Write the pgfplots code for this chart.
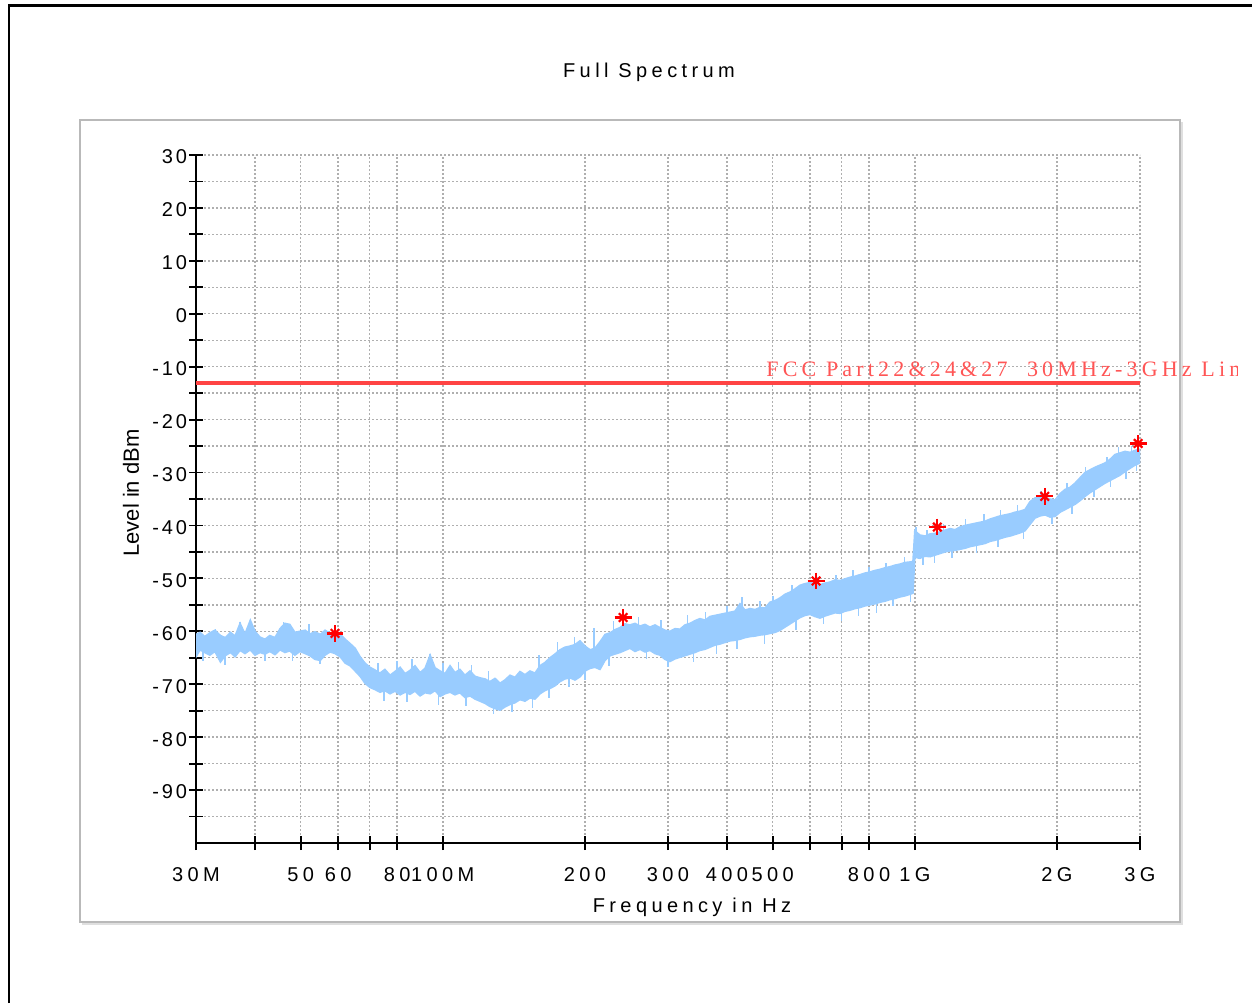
\documentclass[border=0pt]{standalone}
\usepackage{fontspec}
\usepackage{pgfplots}
\pgfplotsset{compat=1.18}
\usepackage{pgfplotstable}
\setmainfont{Liberation Sans}
\newfontfamily\spaced[LetterSpace=22]{Liberation Sans}
\newfontfamily\yspaced[LetterSpace=14]{Liberation Sans}
\newfontfamily\redserif[LetterSpace=19]{Liberation Serif}
\definecolor{trace}{RGB}{153,204,255}
\definecolor{limitred}{RGB}{255,68,68}
\definecolor{textred}{RGB}{255,85,85}
\definecolor{gridgray}{RGB}{175,175,175}

% frequency (MHz), upper envelope (dBm), lower envelope (dBm)
\pgfplotstableread{
f U L
30.0 -60.6 -64.8
30.6 -60.2 -63.5
31.3 -61.0 -64.0
32.1 -60.3 -64.5
32.9 -59.8 -63.8
33.8 -60.8 -65.8
34.6 -61.2 -64.6
35.5 -60.2 -64.0
36.3 -60.9 -64.8
37.2 -58.5 -63.6
38.1 -60.5 -64.2
39.1 -57.9 -63.5
40.0 -60.0 -64.5
41.0 -61.1 -64.0
42.0 -61.5 -64.3
43.0 -60.8 -63.8
44.1 -61.2 -64.4
45.2 -59.5 -63.5
46.3 -58.5 -64.0
47.4 -58.7 -63.7
48.6 -60.2 -64.5
49.8 -60.0 -63.8
51.1 -59.8 -64.2
52.3 -60.5 -64.6
53.6 -60.1 -65.3
55.0 -60.6 -65.5
56.3 -59.8 -64.5
57.7 -60.4 -63.9
59.1 -60.8 -64.2
60.6 -60.5 -64.8
62.1 -61.5 -66.0
63.6 -62.3 -66.5
65.2 -63.2 -67.5
66.8 -64.8 -68.5
68.4 -66.0 -69.8
70.1 -66.8 -70.6
71.8 -67.3 -71.0
73.6 -67.9 -71.5
75.4 -67.2 -71.2
77.3 -68.3 -71.8
79.2 -67.6 -71.3
81.2 -66.8 -72.0
83.2 -68.0 -71.5
85.2 -67.4 -71.9
87.3 -66.5 -71.3
89.5 -67.8 -72.2
91.7 -67.0 -71.6
94.0 -64.5 -71.8
96.3 -66.9 -71.2
98.7 -67.5 -72.3
101.1 -68.0 -71.8
103.6 -66.5 -71.5
106.1 -67.8 -72.0
108.7 -67.2 -71.6
111.4 -68.3 -72.5
114.2 -67.5 -72.2
117.0 -68.5 -72.8
119.9 -68.8 -73.2
122.8 -69.0 -73.6
125.9 -69.5 -74.2
129.0 -68.9 -74.6
132.2 -69.8 -74.9
135.4 -69.2 -74.3
138.8 -68.3 -73.8
142.2 -68.7 -73.5
145.7 -67.6 -72.9
149.3 -68.2 -73.2
153.0 -67.5 -72.6
156.8 -67.9 -72.8
160.7 -66.5 -71.8
164.6 -65.9 -71.2
168.7 -65.0 -70.8
172.8 -64.3 -70.3
177.1 -63.5 -69.5
181.5 -63.0 -69.0
186.0 -62.8 -68.8
190.6 -62.5 -69.2
195.3 -61.8 -68.6
200.1 -62.8 -67.5
205.1 -63.5 -67.0
210.1 -63.2 -66.8
215.3 -62.0 -67.2
220.6 -60.6 -65.5
226.1 -60.3 -64.6
231.6 -59.7 -64.3
237.4 -59.3 -64.0
243.2 -58.6 -63.6
249.2 -58.8 -63.2
255.4 -58.5 -63.8
261.7 -59.0 -63.4
268.1 -58.7 -63.9
274.7 -59.2 -63.6
281.5 -58.8 -64.2
288.5 -59.3 -64.5
295.6 -59.8 -65.3
302.9 -60.0 -65.7
310.4 -59.5 -65.2
318.0 -59.6 -64.9
325.9 -58.8 -64.6
333.9 -58.5 -64.3
342.2 -58.0 -64.0
350.6 -57.6 -63.6
359.3 -57.9 -63.4
368.2 -57.2 -63.0
377.3 -57.0 -62.6
386.6 -56.8 -62.4
396.1 -56.6 -62.1
405.9 -56.4 -61.8
415.9 -56.2 -61.7
426.2 -54.8 -61.5
436.7 -56.0 -61.2
447.5 -55.7 -61.0
458.6 -55.9 -60.9
469.9 -55.5 -60.7
481.5 -55.6 -60.6
493.4 -54.5 -60.4
505.6 -54.2 -60.2
518.1 -53.7 -59.8
530.9 -53.0 -59.2
544.0 -52.6 -58.6
557.4 -52.0 -58.0
571.2 -51.3 -57.4
585.3 -51.0 -57.0
599.7 -50.8 -56.8
614.5 -50.5 -57.2
629.7 -51.2 -57.5
645.3 -50.9 -57.1
661.2 -50.7 -56.8
677.5 -50.3 -56.5
694.3 -50.4 -56.6
711.4 -50.1 -56.2
728.9 -49.8 -56.0
747.0 -49.6 -55.7
765.4 -49.3 -55.5
784.3 -49.0 -55.2
803.7 -48.8 -55.0
823.5 -48.5 -54.8
843.8 -48.3 -54.5
864.7 -48.0 -54.3
886.0 -47.8 -54.0
908.0 -47.5 -53.8
930.4 -47.3 -53.5
953.3 -47.0 -53.3
976.9 -46.9 -53.0
991.0 -46.8 -52.8
1000.0 -41.0 -46.0
1025.0 -41.8 -46.2
1051.0 -42.0 -45.8
1077.0 -41.6 -45.9
1103.6 -41.5 -45.6
1131.0 -41.2 -45.3
1158.8 -40.9 -45.0
1187.5 -40.6 -44.8
1216.7 -40.8 -44.7
1246.8 -40.3 -44.5
1277.6 -40.0 -44.3
1309.1 -39.8 -44.0
1341.4 -39.6 -43.8
1374.6 -39.4 -43.6
1408.5 -39.2 -43.4
1443.3 -38.8 -43.0
1478.9 -38.5 -42.8
1515.4 -38.2 -42.5
1552.9 -38.0 -42.2
1591.2 -37.8 -42.0
1630.5 -37.5 -41.7
1670.8 -37.3 -41.4
1712.0 -37.0 -41.0
1754.3 -35.5 -39.8
1797.6 -34.8 -38.6
1842.0 -34.6 -38.2
1887.5 -34.7 -38.0
1934.0 -35.0 -38.4
1981.9 -35.2 -38.3
2030.8 -34.0 -37.5
2081.0 -33.2 -37.0
2132.3 -32.8 -36.5
2185.0 -32.0 -36.0
2239.0 -31.0 -35.3
2294.3 -30.0 -34.5
2350.9 -29.5 -33.8
2409.0 -29.0 -33.2
2468.5 -28.6 -32.6
2529.5 -28.2 -32.0
2592.0 -27.5 -31.5
2656.0 -26.6 -31.0
2721.6 -26.3 -30.5
2788.7 -26.0 -29.8
2857.6 -26.2 -29.2
2928.0 -25.8 -28.6
3000.0 -25.6 -28.2
}\spectrum

\begin{document}
\begin{tikzpicture}
\begin{scope}[x=0.5pt,y=0.5pt]
\path[use as bounding box] (0,0) rectangle (1252,1003);
% outer frame
\draw[black, line width=1.5pt] (8,997) -- (1252,997);
\draw[black, line width=1pt] (9,0) -- (9,997);
% inner gray frame with shadow
\draw[gray!25, line width=1pt] (82,79) -- (1182,79) -- (1182,881);
\draw[gray!55, line width=1pt] (80,81) rectangle (1180,883);
\end{scope}

\begin{axis}[
  at={(98pt,80pt)}, anchor=south west,
  scale only axis, width=472pt, height=344pt,
  xmode=log, xmin=30, xmax=3000, ymin=-100, ymax=30,
  axis x line=bottom, axis y line=left,
  axis line style={-, black, line width=1pt},
  xtick={30,40,50,60,70,80,100,200,300,400,500,600,700,800,1000,2000,3000},
  xticklabels={30M,,50,60,,80,100M,200,300,400,500,,,800,1G,2G,3G},
  minor xtick={},
  ytick={-90,-80,-70,-60,-50,-40,-30,-20,-10,0,10,20,30},
  yticklabels={-90,-80,-70,-60,-50,-40,-30,-20,-10,0,10,20,30},
  minor ytick={-95,-85,-75,-65,-55,-45,-35,-25,-15,-5,5,15,25},
  xmajorgrids, ymajorgrids, yminorgrids,
  major grid style={gridgray, line width=0.7pt, dash pattern=on 0.8pt off 1.2pt},
  minor grid style={gridgray, line width=0.7pt, dash pattern=on 0.8pt off 1.2pt},
  tick align=center,
  major tick length=7pt, minor tick length=7pt,
  tick style={black, line width=0.9pt},
  xticklabel style={font=\spaced\fontsize{10}{12}\selectfont, yshift=-5pt},
  yticklabel style={font=\yspaced\fontsize{10}{12}\selectfont, xshift=2.5pt, yshift=-1pt},
  stack plots=y,
]
\addplot[draw=none, forget plot] table[x=f, y=L] {\spectrum};
\addplot[fill=trace, draw=trace, line width=0.8pt] table[x=f, y expr=\thisrow{U}-\thisrow{L}] {\spectrum} \closedcycle;
\end{axis}

\begin{axis}[
  at={(98pt,80pt)}, anchor=south west,
  scale only axis, width=472pt, height=344pt,
  xmode=log, xmin=30, xmax=3000, ymin=-100, ymax=30,
  hide axis, unbounded coords=jump,
]
% noise spikes of the trace (base, tip)
\addplot[trace, line width=0.8pt] coordinates {
(33,-62) (33,-59.5) (33,nan)
(37.2,-62) (37.2,-58.3) (37.2,nan)
(39.1,-62) (39.1,-57.6) (39.1,nan)
(46,-62) (46,-58.2) (46,nan)
(52,-62) (52,-58.6) (52,nan)
(31,-62) (31,-65.6) (31,nan)
(34.6,-62) (34.6,-66.4) (34.6,nan)
(42,-62.5) (42,-65.6) (42,nan)
(48,-62) (48,-65.6) (48,nan)
(55,-63) (55,-66.2) (55,nan)
(73,-69) (73,-66) (73,nan)
(80,-69.5) (80,-65.6) (80,nan)
(86,-69.5) (86,-65.3) (86,nan)
(94,-69) (94,-64.3) (94,nan)
(100,-70) (100,-66) (100,nan)
(108,-69.5) (108,-65.8) (108,nan)
(115,-70) (115,-66.4) (115,nan)
(125,-71.5) (125,-67.5) (125,nan)
(75,-69) (75,-73.2) (75,nan)
(84,-69.5) (84,-73.4) (84,nan)
(98,-70) (98,-73.9) (98,nan)
(112,-70) (112,-74.2) (112,nan)
(128,-72) (128,-75.6) (128,nan)
(140,-71) (140,-75.2) (140,nan)
(160,-69) (160,-64.4) (160,nan)
(175,-67) (175,-62) (175,nan)
(190,-66) (190,-61) (190,nan)
(209,-65) (209,-59.4) (209,nan)
(230,-62) (230,-58) (230,nan)
(155,-70) (155,-74.4) (155,nan)
(168,-68) (168,-72.6) (168,nan)
(185,-66) (185,-70.6) (185,nan)
(200,-65) (200,-69.2) (200,nan)
(225,-62) (225,-66.6) (225,nan)
(260,-61) (260,-57.3) (260,nan)
(290,-62) (290,-57.8) (290,nan)
(330,-61.5) (330,-57) (330,nan)
(360,-60.5) (360,-56.3) (360,nan)
(400,-59.5) (400,-55.3) (400,nan)
(430,-58) (430,-53.6) (430,nan)
(470,-58) (470,-54.3) (470,nan)
(500,-57.5) (500,-53.3) (500,nan)
(270,-61.5) (270,-65.3) (270,nan)
(300,-62.5) (300,-66.8) (300,nan)
(340,-61) (340,-65.8) (340,nan)
(380,-60) (380,-64.3) (380,nan)
(420,-59) (420,-63.4) (420,nan)
(480,-58) (480,-62.4) (480,nan)
(550,-55) (550,-51.2) (550,nan)
(620,-54) (620,-49.8) (620,nan)
(680,-53.5) (680,-49.3) (680,nan)
(740,-52.5) (740,-48.5) (740,nan)
(800,-52) (800,-47.8) (800,nan)
(870,-51) (870,-47) (870,nan)
(950,-50) (950,-46) (950,nan)
(560,-55) (560,-59.8) (560,nan)
(640,-54) (640,-58.6) (640,nan)
(700,-53.5) (700,-58) (700,nan)
(760,-52.5) (760,-57.2) (760,nan)
(830,-51.5) (830,-56.5) (830,nan)
(900,-50.5) (900,-55.3) (900,nan)
(980,-50) (980,-54.5) (980,nan)
(1005,-43.5) (1005,-40.2) (1005,nan)
(1060,-44) (1060,-40.8) (1060,nan)
(1150,-43) (1150,-39.7) (1150,nan)
(1280,-42) (1280,-38.7) (1280,nan)
(1400,-41.3) (1400,-37.8) (1400,nan)
(1520,-40.3) (1520,-37) (1520,nan)
(1650,-39.5) (1650,-36.2) (1650,nan)
(1850,-36.5) (1850,-33.5) (1850,nan)
(2100,-35) (2100,-32) (2100,nan)
(2300,-32.3) (2300,-29) (2300,nan)
(2550,-30) (2550,-27) (2550,nan)
(2700,-28.4) (2700,-25.2) (2700,nan)
(2880,-27.5) (2880,-25) (2880,nan)
(1040,-44) (1040,-47.4) (1040,nan)
(1100,-43.5) (1100,-47) (1100,nan)
(1200,-42.8) (1200,-46.2) (1200,nan)
(1350,-41.7) (1350,-45.2) (1350,nan)
(1500,-40.6) (1500,-44) (1500,nan)
(1700,-39) (1700,-42.5) (1700,nan)
(1950,-36.8) (1950,-39.7) (1950,nan)
(2150,-34.5) (2150,-37.8) (2150,nan)
(2400,-31) (2400,-34.7) (2400,nan)
(2600,-29.5) (2600,-32.8) (2600,nan)
(2800,-28) (2800,-31.2) (2800,nan)
(2950,-27.2) (2950,-29.8)
};
\addplot[limitred, line width=2pt] coordinates {(30,-13) (3000,-13)};
\addplot[only marks, red, mark=+, mark size=4.2pt, line width=1.1pt]
  coordinates {(59.1,-60.4) (241,-57.4) (618,-50.5) (1116,-40.3) (1885,-34.5) (2973,-24.5)};
\addplot[only marks, red, mark=x, mark size=3pt, line width=1.1pt]
  coordinates {(59.1,-60.4) (241,-57.4) (618,-50.5) (1116,-40.3) (1885,-34.5) (2973,-24.5)};
\end{axis}

\begin{scope}[x=0.5pt,y=0.5pt]
\node[font=\spaced\fontsize{10}{12}\selectfont] at (649,931) {Full Spectrum};
\node[font=\spaced\fontsize{10}{12}\selectfont] at (692,96) {Frequency in Hz};
\node[font=\fontsize{11}{13}\selectfont, rotate=90] at (131,510) {Level in dBm};
\clip (0,0) rectangle (1237,1003);
\node[anchor=base west, inner sep=0pt, text=textred, font=\redserif\fontsize{11}{13}\selectfont] at (766,626) {FCC Part22\&24\&27\ \ 30MHz-3GHz Limit};
\end{scope}
\end{tikzpicture}
\end{document}
